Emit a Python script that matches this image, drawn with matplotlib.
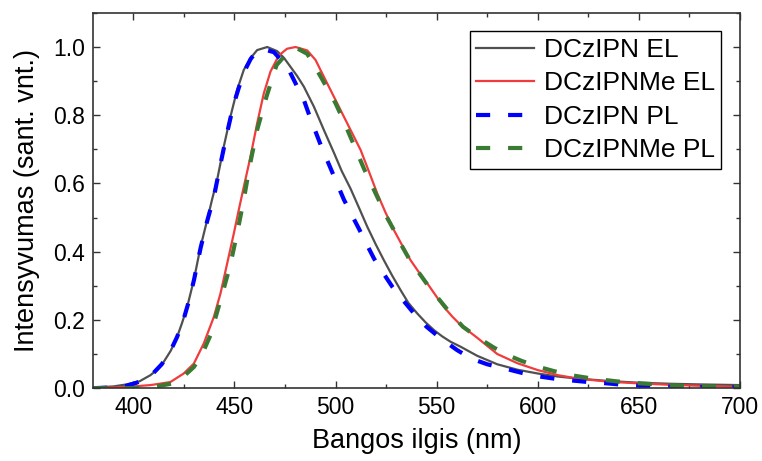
import matplotlib
matplotlib.use("Agg")
import matplotlib.pyplot as plt
from matplotlib.ticker import MultipleLocator, FormatStrFormatter

# ---- data ----
dczipn_el_x = [380, 390, 396.7, 403, 408.4, 412, 415, 418.5, 421.6, 424, 426.6, 429.9, 433.2, 436.5, 439,
               441.4, 444.7, 448, 451.3, 454.6, 457.9, 461.2, 466.2, 471.1, 474.5, 477.7, 481, 484.3,
               489.3, 494.2, 499.2, 503, 507.4, 511.5, 515.7, 520, 523.9, 528, 532.2, 536, 540.4, 544.5,
               548.7, 552.7, 556.9, 562, 570, 580, 590, 600, 610, 620, 635, 650, 665, 680, 700]
dczipn_el_y = [0.002, 0.005, 0.011, 0.02, 0.038, 0.055, 0.077, 0.11, 0.150, 0.19, 0.238, 0.317, 0.414, 0.493, 0.555,
               0.61, 0.708, 0.796, 0.874, 0.933, 0.967, 0.991, 1.0, 0.988, 0.968, 0.942, 0.915, 0.884,
               0.825, 0.757, 0.69, 0.637, 0.585, 0.53, 0.473, 0.42, 0.375, 0.33, 0.287, 0.25, 0.219, 0.193,
               0.170, 0.152, 0.136, 0.121, 0.095, 0.07, 0.054, 0.043, 0.034, 0.028, 0.021, 0.016, 0.013,
               0.011, 0.009]

dczipnme_el_x = [380, 395, 402, 408.4, 413, 418.3, 424.9, 429.9, 434.8, 439.8, 443.1, 446.4, 449.7, 452.1,
                 454.6, 457.9, 461.2, 464.5, 467.8, 471.9, 476, 480.2, 486, 490.1, 494.2, 499.2, 504.1,
                 509.1, 512.4, 516.5, 520.6, 524.7, 528.9, 533, 537.1, 541.2, 545.4, 549.5, 553.6, 557.7,
                 561.9, 570, 580, 590, 600, 610, 620, 635, 650, 665, 680, 700]
dczipnme_el_y = [0.001, 0.003, 0.006, 0.009, 0.013, 0.018, 0.043, 0.072, 0.131, 0.209, 0.278, 0.366, 0.454, 0.522,
                 0.59, 0.678, 0.776, 0.864, 0.928, 0.975, 0.995, 1.0, 0.99, 0.962, 0.913, 0.854, 0.796,
                 0.737, 0.698, 0.635, 0.571, 0.515, 0.463, 0.418, 0.375, 0.34, 0.307, 0.272, 0.238, 0.21,
                 0.185, 0.148, 0.10, 0.073, 0.053, 0.038, 0.028, 0.019, 0.014, 0.01, 0.007, 0.004]

dczipn_pl_x = [380, 390, 396, 401.6, 406, 410, 414, 418, 421.6, 424.5, 427.2, 430, 433.2, 436.5, 439.8, 443,
               446.4, 449.5, 452.1, 455, 458, 461, 464.5, 469.5, 473, 476.9, 480.5, 484.3, 487, 490.1,
               493.5, 497, 500.5, 504.1, 507.8, 511.5, 515.2, 519, 523.5, 528.1, 533.5, 538.8, 545, 552,
               560, 567, 575, 583.4, 592, 600, 608, 616, 625, 634.5, 642, 651, 660, 670.8, 685, 700]
dczipn_pl_y = [0.0, 0.002, 0.006, 0.016, 0.028, 0.045, 0.07, 0.105, 0.15, 0.195, 0.25, 0.318, 0.41, 0.49, 0.56,
               0.655, 0.75, 0.83, 0.88, 0.93, 0.965, 0.988, 0.993, 0.985, 0.962, 0.933, 0.89, 0.845, 0.8,
               0.752, 0.70, 0.652, 0.603, 0.553, 0.51, 0.468, 0.424, 0.38, 0.338, 0.297, 0.257, 0.219,
               0.18, 0.146, 0.112, 0.087, 0.07, 0.058, 0.045, 0.035, 0.028, 0.023, 0.018, 0.014, 0.01,
               0.007, 0.005, 0.004, 0.003, 0.002]

dczipnme_pl_x = [380, 395, 405, 412, 419.7, 424, 429.9, 434, 438.1, 443.1, 447.7, 451.3, 454.6, 457.6, 461.2,
                 465.8, 470.8, 475, 481, 486, 491.7, 496, 500, 503.5, 506.6, 510, 514, 517.5, 521.4, 525,
                 528.9, 532.5, 536.3, 541, 546.2, 551.5, 556.9, 563, 570, 578, 585, 592, 600, 608, 616.4,
                 625, 634.5, 642, 651, 660, 670.8, 685, 700]
dczipnme_pl_y = [0.0, 0.0, 0.001, 0.006, 0.014, 0.03, 0.062, 0.1, 0.155, 0.258, 0.356, 0.454, 0.553, 0.654,
                 0.757, 0.854, 0.947, 0.975, 0.996, 0.98, 0.923, 0.878, 0.835, 0.79, 0.747, 0.70, 0.644,
                 0.60, 0.551, 0.505, 0.463, 0.42, 0.38, 0.34, 0.297, 0.258, 0.219, 0.18, 0.15, 0.12, 0.097,
                 0.08, 0.063, 0.05, 0.038, 0.03, 0.023, 0.018, 0.014, 0.011, 0.007, 0.005, 0.004]

labels = ["DCzIPN EL", "DCzIPNMe EL", "DCzIPN PL", "DCzIPNMe PL"]
x_label = "Bangos ilgis (nm)"
y_label = "Intensyvumas (sant. vnt.)"

plt.rcParams['font.family'] = ['Liberation Sans', 'DejaVu Sans']

fig = plt.figure(figsize=(7.62, 4.61), dpi=100)
ax = fig.add_axes([0.122, 0.158, 0.849, 0.814])

ax.plot(dczipn_el_x, dczipn_el_y, color='#505050', lw=1.6, label=labels[0])
ax.plot(dczipnme_el_x, dczipnme_el_y, color='#f03c3c', lw=1.6, label=labels[1])
ax.plot(dczipn_pl_x, dczipn_pl_y, color='#0000ff', lw=3.0, dashes=(3.4, 4.3), label=labels[2])
ax.plot(dczipnme_pl_x, dczipnme_pl_y, color='#3a7a33', lw=3.0, dashes=(3.4, 4.3), label=labels[3])

ax.set_xlim(380, 700)
ax.set_ylim(0, 1.1)
ax.xaxis.set_major_locator(MultipleLocator(50))
ax.xaxis.set_minor_locator(MultipleLocator(25))
ax.yaxis.set_major_locator(MultipleLocator(0.2))
ax.yaxis.set_minor_locator(MultipleLocator(0.1))
ax.yaxis.set_major_formatter(FormatStrFormatter('%.1f'))

ax.tick_params(which='both', direction='in', top=True, right=True, color='#333333', width=1.0)
ax.tick_params(which='major', length=5, labelsize=16.5, pad=6)
ax.tick_params(which='minor', length=3)
for s in ax.spines.values():
    s.set_linewidth(1.2)
    s.set_color('#333333')

ax.set_xlabel(x_label, fontsize=19.5, labelpad=6)
ax.set_ylabel(y_label, fontsize=19.5, labelpad=9)

leg = ax.legend(loc='upper right', fontsize=19, frameon=True, fancybox=False, framealpha=1,
                edgecolor='black', handlelength=2.2, handletextpad=0.35, labelspacing=0.36,
                borderpad=0.25, borderaxespad=0.7)
leg.get_frame().set_linewidth(1.0)

fig.savefig('out.png', dpi=100)
